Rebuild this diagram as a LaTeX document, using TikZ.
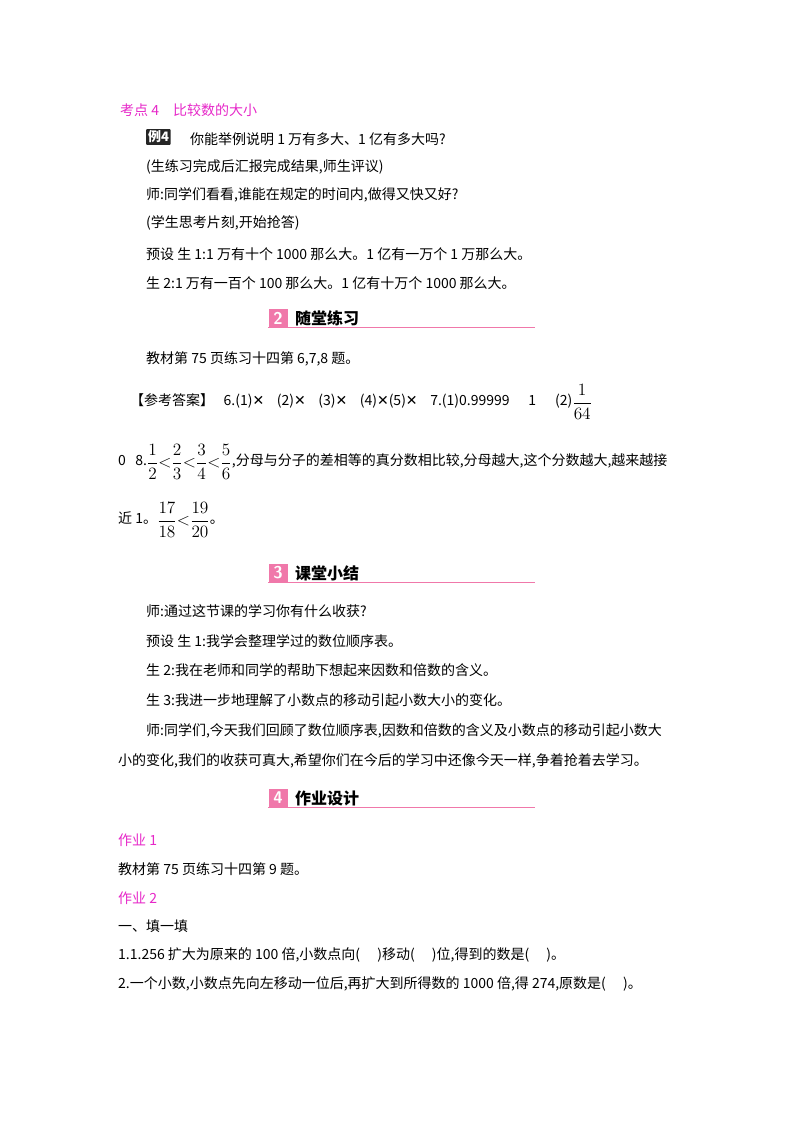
\documentclass[tikz,border=0pt]{standalone}
\usepackage{amsmath}
\usepackage{fontspec}
\newfontfamily\cjk{Noto Sans CJK SC}
\newfontfamily\dvs{DejaVu Sans}
\definecolor{pk}{RGB}{230,40,200}
\definecolor{pkl}{RGB}{240,120,170}
\newcommand{\bigf}[1]{\raisebox{-0.2ex}{\scalebox{1.2}{$\displaystyle #1$}}}
\newcommand{\crs}{{\dvs ✕}}
\begin{document}
\begin{tikzpicture}[x=1pt,y=-1pt,
 t/.style={anchor=west,inner sep=0pt,font=\cjk\fontsize{14}{16}\selectfont},
 pt/.style={t,text=pk},
 hd/.style={anchor=west,inner sep=0pt,font=\cjk\bfseries\fontsize{16}{18}\selectfont},
 ic/.style={fill=pkl,text=white,minimum width=19pt,minimum height=19pt,inner sep=0pt,font=\sffamily\bfseries\fontsize{17}{17}\selectfont}]
\useasboundingbox (0,0) rectangle (800,1132);
\node[pt] (k4) at (120,110) {考点 4\quad 比较数的大小};
\node[fill=black!85,text=white,anchor=west,inner sep=1.8pt,rounded corners=1pt,font=\cjk\bfseries\fontsize{13}{13}\selectfont] (l4) at (146,137) {例4};
\node[t] (a1) at (190,139) {你能举例说明 1 万有多大、1 亿有多大吗?};
\node[t] (a2) at (146,167) {(生练习完成后汇报完成结果,师生评议)};
\node[t] (a3) at (146,195) {师:同学们看看,谁能在规定的时间内,做得又快又好?};
\node[t] (a4) at (146,223) {(学生思考片刻,开始抢答)};
\node[t] (a5) at (146,254) {预设\ 生 1:1 万有十个 1000 那么大。1 亿有一万个 1 万那么大。};
\node[t] (a6) at (146,283) {生 2:1 万有一百个 100 那么大。1 亿有十万个 1000 那么大。};
% header 2
\node[ic] (i2) at (278,318) {2};
\node[hd] (h2) at (295,318) {随堂练习};
\draw[pkl,line width=1.2pt] (i2.south west) -- ++(267,0) coordinate (e2);
\node[t] (b1) at (146,359) {教材第 75 页练习十四第 6,7,8 题。};
\node[t] (b2) at (130,402) {【参考答案】\ \ \ 6.(1)\crs\ \ \ \ (2)\crs\ \ \ \ (3)\crs\ \ \ \ (4)\crs(5)\crs\ \ \ \ 7.(1)0.99999\ \ \ \ \ \ 1\ \ \ \ \ \ (2)\bigf{\frac{1}{64}}};
\node[t] (b3) at (118,462) {0\ \ \ 8.\bigf{\frac{1}{2}{<}\frac{2}{3}{<}\frac{3}{4}{<}\frac{5}{6}},分母与分子的差相等的真分数相比较,分母越大,这个分数越大,越来越接};
\node[t] (b4) at (118,520) {近 1。\bigf{\frac{17}{18}{<}\frac{19}{20}}。};
% header 3
\node[ic] (i3) at (278,573) {3};
\node[hd] (h3) at (295,573) {课堂小结};
\draw[pkl,line width=1.2pt] (i3.south west) -- ++(267,0) coordinate (e3);
\node[t] (c1) at (146,611) {师:通过这节课的学习你有什么收获?};
\node[t] (c2) at (146,641) {预设\ 生 1:我学会整理学过的数位顺序表。};
\node[t] (c3) at (146,670) {生 2:我在老师和同学的帮助下想起来因数和倍数的含义。};
\node[t] (c4) at (146,700) {生 3:我进一步地理解了小数点的移动引起小数大小的变化。};
\node[t] (c5) at (146,731) {师:同学们,今天我们回顾了数位顺序表,因数和倍数的含义及小数点的移动引起小数大};
\node[t] (c6) at (118,761) {小的变化,我们的收获可真大,希望你们在今后的学习中还像今天一样,争着抢着去学习。};
% header 4
\node[ic] (i4) at (278,798) {4};
\node[hd] (h4) at (295,798) {作业设计};
\draw[pkl,line width=1.2pt] (i4.south west) -- ++(267,0) coordinate (e4);
\node[pt] (d1) at (118,840) {作业 1};
\node[t] (d2) at (118,869) {教材第 75 页练习十四第 9 题。};
\node[pt] (d3) at (118,898) {作业 2};
\node[t] (d4) at (118,926) {一、填一填};
\node[t] (d5) at (118,955) {1.1.256 扩大为原来的 100 倍,小数点向(\quad\ )移动(\quad\ )位,得到的数是(\quad\ )。};
\node[t] (d6) at (118,984) {2.一个小数,小数点先向左移动一位后,再扩大到所得数的 1000 倍,得 274,原数是(\quad\ )。};
\end{tikzpicture}
\end{document}
